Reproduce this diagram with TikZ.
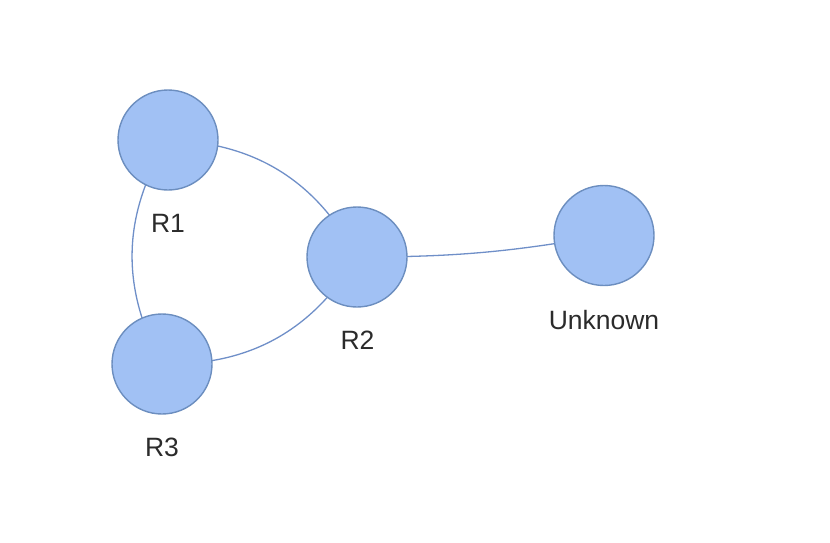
\documentclass[tikz,border=0pt]{standalone}
\usepackage{fontspec}
\setmainfont{Liberation Sans}
\usetikzlibrary{backgrounds}
\definecolor{nodefill}{HTML}{A1C1F4}
\definecolor{nodeline}{HTML}{6C8EBF}
\definecolor{edgeline}{HTML}{6F8FC8}
\definecolor{labeltext}{HTML}{2B2B2B}
\begin{document}
\begin{tikzpicture}[x=1pt,y=-1pt,
  router/.style={circle,draw=nodeline,fill=nodefill,line width=1.4pt,minimum size=100pt,inner sep=0pt},
  lbl/.style={text=labeltext,font=\fontsize{26.5}{31}\selectfont,inner sep=0pt},
  link/.style={draw=edgeline,line width=1.3pt}]
\useasboundingbox (0,0) rectangle (830,542);
\node[router] (R1) at (168,140) {};
\node[router] (R2) at (357,257) {};
\node[router] (R3) at (162,364) {};
\node[router] (U) at (604,235.5) {};
\node[lbl] (L1) at (168,223) {R1};
\node[lbl] (L2) at (357.5,340) {R2};
\node[lbl] (L3) at (162,447) {R3};
\node[lbl] (LU) at (604,320) {Unknown};
\begin{scope}[on background layer]
\draw[link] (R1.center) to[bend left=30] (R2.center);
\draw[link] (R2.center) to[bend left=30] (R3.center);
\draw[link] (R3.center) to[bend left=30] (R1.center);
\draw[link] (R2.center) to[bend right=5] (U.center);
\end{scope}
\end{tikzpicture}
\end{document}
